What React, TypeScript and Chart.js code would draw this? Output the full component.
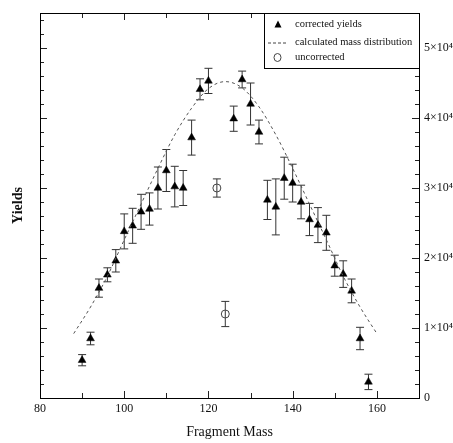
import React, { useEffect, useRef } from "react";
import { Chart, registerables } from "chart.js";
Chart.register(...registerables);

const correctedMass = [90, 92, 94, 96, 98, 100, 102, 104, 106, 108, 110, 112, 114, 116, 118, 120, 126, 128, 130, 132, 134, 136, 138, 140, 142, 144, 146, 148, 150, 152, 154, 156, 158];
const correctedYield = [5400, 8500, 15700, 17600, 19600, 23800, 24600, 26600, 27000, 30000, 32500, 30200, 30000, 37200, 44100, 45300, 39900, 45500, 42000, 38000, 28300, 27300, 31400, 30700, 28000, 25500, 24700, 23600, 18900, 17700, 15300, 8500, 2300];
const correctedErr = [800, 900, 1300, 1000, 1600, 2500, 2500, 2500, 2300, 3000, 3000, 2900, 2500, 2500, 1500, 1800, 1800, 1200, 3000, 1700, 2800, 4000, 3000, 2700, 2400, 2300, 2500, 2500, 1500, 1900, 1700, 1600, 1100];

const uncorrectedMass = [122, 124];
const uncorrectedYield = [30000, 12000];
const uncorrectedErr = [1300, 1800];

const curveMass = [88, 92, 96, 100, 104, 108, 112, 116, 120, 124, 128, 132, 136, 140, 144, 148, 152, 156, 160];
const curveYield = [9200, 13000, 17400, 22600, 27700, 32800, 37600, 41400, 44200, 45200, 44300, 41600, 37600, 32800, 27700, 22600, 17400, 13000, 9200];

const rightTickLabels: Record<number, string> = { 0: "0", 10000: "1×10⁴", 20000: "2×10⁴", 30000: "3×10⁴", 40000: "4×10⁴", 50000: "5×10⁴" };
const legendLabels = ["corrected yields", "calculated mass distribution", "uncorrected"];

const SERIF = "'Liberation Serif', 'DejaVu Serif', serif";

const errorBarPlugin = {
  id: "errorBars",
  beforeDatasetsDraw(chart: any) {
    const { ctx } = chart;
    const xs = chart.scales.x;
    const ys = chart.scales.y;
    const draw = (ms: number[], vs: number[], es: number[]) => {
      ms.forEach((m, i) => {
        const px = xs.getPixelForValue(m);
        const top = ys.getPixelForValue(vs[i] + es[i]);
        const bot = ys.getPixelForValue(vs[i] - es[i]);
        ctx.beginPath();
        ctx.moveTo(px, top);
        ctx.lineTo(px, bot);
        ctx.moveTo(px - 4, top);
        ctx.lineTo(px + 4, top);
        ctx.moveTo(px - 4, bot);
        ctx.lineTo(px + 4, bot);
        ctx.stroke();
      });
    };
    ctx.save();
    ctx.strokeStyle = "#333";
    ctx.lineWidth = 1;
    draw(correctedMass, correctedYield, correctedErr);
    draw(uncorrectedMass, uncorrectedYield, uncorrectedErr);
    ctx.restore();
  },
};

const framePlugin = {
  id: "frame",
  afterDraw(chart: any) {
    const { ctx, chartArea: a } = chart;
    const xs = chart.scales.x;
    const ys = chart.scales.y;
    ctx.save();
    ctx.strokeStyle = "#222";
    ctx.lineWidth = 1;
    ctx.beginPath();
    for (let m = 80; m <= 170; m += 10) {
      const px = Math.round(xs.getPixelForValue(m)) + 0.5;
      const len = m % 20 === 0 ? 7 : 5;
      ctx.moveTo(px, a.bottom);
      ctx.lineTo(px, a.bottom - len);
      ctx.moveTo(px, a.top);
      ctx.lineTo(px, a.top + len);
    }
    for (let v = 0; v <= 55000; v += 2000) {
      const py = Math.round(ys.getPixelForValue(v)) + 0.5;
      const len = v % 10000 === 0 ? 7 : 4;
      ctx.moveTo(a.left, py);
      ctx.lineTo(a.left + len, py);
      ctx.moveTo(a.right, py);
      ctx.lineTo(a.right - len, py);
    }
    ctx.stroke();
    ctx.strokeStyle = "#000";
    ctx.strokeRect(Math.round(a.left) + 0.5, Math.round(a.top) + 0.5, Math.round(a.right - a.left), Math.round(a.bottom - a.top));

    // legend box
    const bx = 264.5, by = Math.round(a.top) + 0.5, bw = Math.round(a.right) - 264, bh = 55;
    ctx.fillStyle = "#fff";
    ctx.fillRect(bx, by, bw, bh);
    ctx.strokeStyle = "#000";
    ctx.strokeRect(bx, by, bw, bh);
    ctx.font = `10.5px ${SERIF}`;
    ctx.fillStyle = "#111";
    ctx.textBaseline = "middle";
    ctx.textAlign = "left";
    const tx = 295;
    const rows = [by + 11, by + 29, by + 44];
    // triangle
    ctx.beginPath();
    ctx.moveTo(278, rows[0] - 4);
    ctx.lineTo(281.5, rows[0] + 3);
    ctx.lineTo(274.5, rows[0] + 3);
    ctx.closePath();
    ctx.fillStyle = "#000";
    ctx.fill();
    // dashed line
    ctx.save();
    ctx.strokeStyle = "#444";
    ctx.setLineDash([3, 2]);
    ctx.beginPath();
    ctx.moveTo(268, rows[1] + 0.5);
    ctx.lineTo(286, rows[1] + 0.5);
    ctx.stroke();
    ctx.restore();
    // circle
    ctx.beginPath();
    ctx.ellipse(277.5, rows[2], 3.5, 4, 0, 0, Math.PI * 2);
    ctx.strokeStyle = "#444";
    ctx.stroke();
    ctx.fillStyle = "#111";
    legendLabels.forEach((t, i) => ctx.fillText(t, tx, rows[i]));
    ctx.restore();
  },
};

export default function App() {
  const ref = useRef<HTMLCanvasElement>(null);
  useEffect(() => {
    if (!ref.current) return;
    const chart = new Chart(ref.current, {
      type: "scatter",
      data: {
        datasets: [
          {
            type: "line",
            label: legendLabels[1],
            data: curveMass.map((m, i) => ({ x: m, y: curveYield[i] })),
            borderColor: "#555",
            borderWidth: 1,
            borderDash: [3, 3],
            pointRadius: 0,
            cubicInterpolationMode: "monotone",
            fill: false,
            showLine: true,
          } as any,
          {
            label: legendLabels[0],
            data: correctedMass.map((m, i) => ({ x: m, y: correctedYield[i] })),
            pointStyle: "triangle",
            pointRadius: 4.5,
            backgroundColor: "#000",
            borderColor: "#000",
            borderWidth: 0.5,
          },
          {
            label: legendLabels[2],
            data: uncorrectedMass.map((m, i) => ({ x: m, y: uncorrectedYield[i] })),
            pointStyle: "circle",
            pointRadius: 4,
            backgroundColor: "rgba(255,255,255,0)",
            borderColor: "#444",
            borderWidth: 1,
          },
        ],
      },
      options: {
        animation: false,
        responsive: false,
        layout: { padding: { top: 13, left: 0, right: 0, bottom: 0 } },
        plugins: { legend: { display: false }, tooltip: { enabled: false } },
        scales: {
          x: {
            type: "linear",
            position: "bottom",
            min: 80,
            max: 170,
            afterFit: (s: any) => { s.height = 45; },
            afterBuildTicks: (s: any) => { s.ticks = [80, 100, 120, 140, 160].map((v) => ({ value: v })); },
            ticks: { color: "#111", font: { family: SERIF, size: 12 }, padding: 4, maxRotation: 0 },
            grid: { display: false, drawTicks: false },
            border: { display: false },
            title: { display: true, text: "Fragment Mass", color: "#111", font: { family: SERIF, size: 14 }, padding: { top: 0, bottom: 2 } },
          },
          y: {
            type: "linear",
            position: "left",
            min: 0,
            max: 55000,
            afterFit: (s: any) => { s.width = 40; },
            ticks: { display: false },
            grid: { display: false, drawTicks: false },
            border: { display: false },
            title: { display: true, text: "Yields", color: "#111", font: { family: SERIF, size: 14, weight: "bold" }, padding: { top: 10, bottom: 0 } },
          },
          y2: {
            type: "linear",
            position: "right",
            min: 0,
            max: 55000,
            afterFit: (s: any) => { s.width = 34; },
            afterBuildTicks: (s: any) => { s.ticks = [0, 10000, 20000, 30000, 40000, 50000].map((v) => ({ value: v })); },
            ticks: { color: "#111", font: { family: SERIF, size: 12 }, padding: 5, callback: (v: any) => rightTickLabels[v as number] ?? "" },
            grid: { display: false, drawTicks: false },
            border: { display: false },
          },
        },
      },
      plugins: [errorBarPlugin, framePlugin],
    });
    return () => chart.destroy();
  }, []);
  return (
    <div style={{ position: "fixed", left: 0, top: 0, width: 453, height: 443, background: "#fff" }}>
      <canvas ref={ref} width={453} height={443} style={{ width: 453, height: 443 }} />
    </div>
  );
}
